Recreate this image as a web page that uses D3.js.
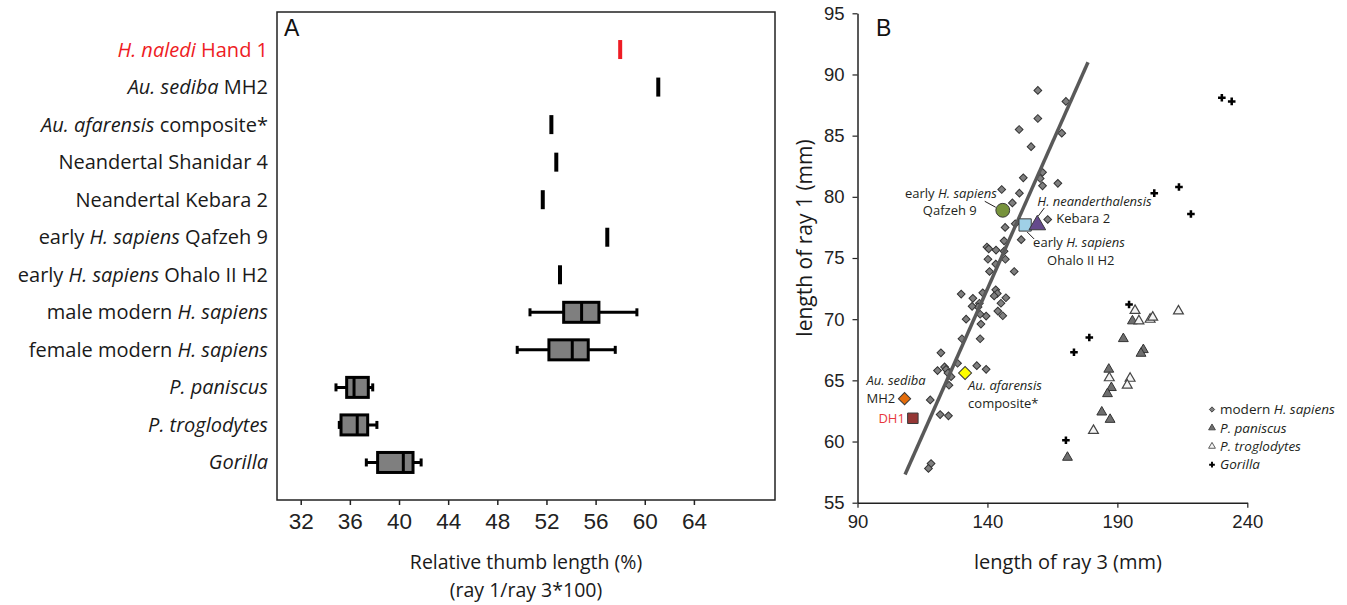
<!DOCTYPE html>
<html>
<head>
<meta charset="utf-8">
<script src="https://cdn.jsdelivr.net/npm/d3@7"></script>
<style>
  body { margin: 0; background: #fff; }
  text { white-space: pre; }
</style>
</head>
<body>
<svg id="chart" width="1347" height="605"></svg>
<script>
// ---- panel A data: relative thumb length (%)
var categoriesA = [
    "<i>H. naledi</i> Hand 1",
    "<i>Au. sediba</i> MH2",
    "<i>Au. afarensis</i> composite*",
    "Neandertal Shanidar 4",
    "Neandertal Kebara 2",
    "early <i>H. sapiens</i> Qafzeh 9",
    "early <i>H. sapiens</i> Ohalo II H2",
    "male modern <i>H. sapiens</i>",
    "female modern <i>H. sapiens</i>",
    "<i>P. paniscus</i>",
    "<i>P. troglodytes</i>",
    "<i>Gorilla</i>"
];
// single specimens (first seven categories)
var singleValues = [58.0, 61.1, 52.4, 52.8, 51.7, 56.95, 53.1];
// box plots: [min, q1, median, q3, max] for the last five categories
var boxValues = [
    [50.66, 53.4, 54.86, 56.27, 59.36],
    [49.62, 52.2, 54.1, 55.4, 57.6],
    [34.87, 35.74, 36.34, 37.5, 37.86],
    [35.14, 35.28, 36.6, 37.45, 38.2],
    [37.34, 38.26, 40.35, 41.14, 41.8]
];
var ticksA = [32, 36, 40, 44, 48, 52, 56, 60, 64];

// ---- panel B data: length of ray 3 (x) vs ray 1 (y), mm
var modernSapiens = [
    [159.4, 88.7], [170.2, 87.8], [159.4, 86.4], [152.2, 85.5], [168.6, 85.2], [156.8, 84.1],
    [153.8, 81.55], [161.2, 82.0], [160.3, 81.5], [161.2, 80.9], [167.1, 81.1], [145.5, 80.6],
    [152.3, 80.3], [149.6, 79.5], [163.2, 78.15], [150.7, 77.8], [146.8, 77.5], [153.0, 76.5],
    [146.4, 76.4], [139.8, 75.9], [140.5, 75.75], [143.3, 75.65], [146.4, 75.56], [146.9, 74.9],
    [140.2, 74.9], [143.2, 74.5], [140.8, 73.9], [150.3, 73.9], [129.9, 72.05], [134.4, 71.7],
    [138.2, 72.15], [143.2, 72.4], [143.8, 72.1], [142.6, 71.9], [147.1, 71.75], [145.2, 71.3],
    [136.9, 71.3], [136.4, 71.0], [134.1, 71.05], [144.0, 70.66], [145.9, 70.28], [139.5, 70.25],
    [137.2, 70.4], [131.8, 70.0], [137.5, 69.6], [137.2, 68.4], [130.2, 68.4], [122.1, 67.25],
    [128.5, 66.4], [123.5, 66.1], [124.1, 65.9], [120.8, 65.8], [124.8, 65.6], [126.0, 65.3],
    [135.9, 66.2], [139.5, 65.9], [125.2, 64.6], [118.0, 63.4], [121.8, 62.2], [125.0, 62.1],
    [118.3, 58.2], [117.3, 57.8]
];
var paniscus = [
    [195.8, 69.85], [192.3, 68.4], [200.0, 67.5], [199.1, 67.2], [186.7, 65.9],
    [187.7, 64.4], [186.2, 63.9], [184.0, 62.4], [187.2, 61.8], [170.8, 58.7]
];
var troglodytes = [
    [196.8, 70.7], [198.3, 69.85], [202.6, 69.98], [203.6, 70.15], [213.5, 70.66],
    [194.9, 65.16], [193.8, 64.6], [186.9, 65.2], [180.8, 60.9]
];
var gorilla = [
    [230.2, 88.1], [234.0, 87.8], [204.2, 80.3], [213.7, 80.8], [218.3, 78.6],
    [194.5, 71.2], [179.2, 68.5], [173.3, 67.3], [170.2, 60.1]
];
var regressionLine = [[108.3, 57.3], [178.7, 91.0]];
var ticksBx = [90, 140, 190, 240];
var ticksBy = [55, 60, 65, 70, 75, 80, 85, 90, 95];

// fossil specimens in panel B
var fossils = [
    {name: "Qafzeh 9", x: 145.9, y: 78.9, shape: "circle", fill: "#77933c"},
    {name: "Ohalo II H2", x: 154.5, y: 77.7, shape: "square", fill: "#9fd0e6"},
    {name: "Kebara 2", x: 159.2, y: 77.7, shape: "triangle", fill: "#654a8c"},
    {name: "MH2", x: 108.1, y: 63.5, shape: "diamond", fill: "#e46c0a"},
    {name: "DH1", x: 111.3, y: 61.9, shape: "square", fill: "#953735"},
    {name: "afarensis", x: 131.4, y: 65.6, shape: "diamond", fill: "#ffff00"}
];

var legendItems = ["modern <i>H. sapiens</i>", "<i>P. paniscus</i>", "<i>P. troglodytes</i>", "<i>Gorilla</i>"];

var LABEL_FONT = "'Open Sans', sans-serif";
var TICK_FONT = "'Liberation Sans', Arial, sans-serif";

var svg = d3.select("#chart");

/**
 * Writes text with <i>..</i> parts as italic tspans.
 * */
function richText(sel, str) {
    str.split(/(<i>.*?<\/i>)/).filter(function(s) { return s.length; }).forEach(function(s) {
        var it = s.indexOf("<i>") === 0;
        sel.append("tspan")
            .style("font-style", it ? "italic" : "normal")
            .text(it ? s.slice(3, -4) : s);
    });
}

// ================= PANEL A =================
var xA = d3.scaleLinear().domain([30.07, 70.6]).range([277, 775]);
var yA = d3.scalePoint().domain(d3.range(categoriesA.length)).range([12, 500]).padding(1);

var panelA = svg.append("g");

panelA.append("rect")
    .attr("x", 277).attr("y", 12)
    .attr("width", 498).attr("height", 488)
    .attr("fill", "none")
    .attr("stroke", "#222")
    .attr("stroke-width", 1.5);

// x axis under the frame
var axisA = panelA.append("g")
    .attr("transform", "translate(0,500)")
    .call(d3.axisBottom(xA).tickValues(ticksA).tickSize(5).tickPadding(8));
axisA.select(".domain").remove();
axisA.selectAll("line").attr("stroke", "#222").attr("stroke-width", 1.5);
axisA.selectAll("text")
    .attr("font-family", TICK_FONT)
    .attr("font-size", 22.5)
    .attr("fill", "#222");

// category labels
panelA.selectAll(".catLabel")
    .data(categoriesA)
    .enter().append("text")
    .attr("class", "catLabel")
    .attr("x", 268)
    .attr("y", function(d, i) { return yA(i); })
    .attr("dy", "0.35em")
    .attr("text-anchor", "end")
    .attr("font-family", LABEL_FONT)
    .attr("font-size", 20)
    .attr("fill", function(d, i) { return i === 0 ? "#ee1c24" : "#1a1a1a"; })
    .each(function(d) { richText(d3.select(this), d); });

// single specimen marks
panelA.selectAll(".single")
    .data(singleValues)
    .enter().append("line")
    .attr("class", "single")
    .attr("x1", function(d) { return xA(d); })
    .attr("x2", function(d) { return xA(d); })
    .attr("y1", function(d, i) { return yA(i) - 9.5; })
    .attr("y2", function(d, i) { return yA(i) + 9.5; })
    .attr("stroke", function(d, i) { return i === 0 ? "#ee1c24" : "#000"; })
    .attr("stroke-width", 4);

// box plots
var boxes = panelA.selectAll(".box")
    .data(boxValues)
    .enter().append("g")
    .attr("class", "box")
    .attr("transform", function(d, i) { return "translate(0," + yA(i + singleValues.length) + ")"; });

boxes.append("line")
    .attr("x1", function(d) { return xA(d[0]); })
    .attr("x2", function(d) { return xA(d[4]); })
    .attr("stroke", "#000").attr("stroke-width", 3);
boxes.selectAll(".cap")
    .data(function(d) { return [d[0], d[4]]; })
    .enter().append("line")
    .attr("class", "cap")
    .attr("x1", function(d) { return xA(d); })
    .attr("x2", function(d) { return xA(d); })
    .attr("y1", -4).attr("y2", 4)
    .attr("stroke", "#000").attr("stroke-width", 3);
boxes.append("rect")
    .attr("x", function(d) { return xA(d[1]); })
    .attr("width", function(d) { return xA(d[3]) - xA(d[1]); })
    .attr("y", -10).attr("height", 20)
    .attr("fill", "#7f7f7f")
    .attr("stroke", "#000").attr("stroke-width", 3);
boxes.append("line")
    .attr("x1", function(d) { return xA(d[2]); })
    .attr("x2", function(d) { return xA(d[2]); })
    .attr("y1", -10).attr("y2", 10)
    .attr("stroke", "#000").attr("stroke-width", 3);

panelA.append("text")
    .attr("x", 284).attr("y", 36)
    .attr("font-family", TICK_FONT)
    .attr("font-size", 23)
    .attr("fill", "#111")
    .text("A");

panelA.append("text")
    .attr("x", 526).attr("y", 569)
    .attr("text-anchor", "middle")
    .attr("font-family", LABEL_FONT)
    .attr("font-size", 19.5)
    .attr("fill", "#1a1a1a")
    .text("Relative thumb length (%)");
panelA.append("text")
    .attr("x", 526).attr("y", 597)
    .attr("text-anchor", "middle")
    .attr("font-family", LABEL_FONT)
    .attr("font-size", 19.5)
    .attr("fill", "#1a1a1a")
    .text("(ray 1/ray 3*100)");

// ================= PANEL B =================
var xB = d3.scaleLinear().domain([90, 240]).range([857.5, 1247.3]);
var yB = d3.scaleLinear().domain([55, 95]).range([502.7, 13.3]);

var panelB = svg.append("g");

var axBx = panelB.append("g")
    .attr("transform", "translate(0," + yB(55) + ")")
    .call(d3.axisBottom(xB).tickValues(ticksBx).tickSize(5).tickSizeOuter(0).tickPadding(7));
var axBy = panelB.append("g")
    .attr("transform", "translate(" + xB(90) + ",0)")
    .call(d3.axisLeft(yB).tickValues(ticksBy).tickSize(5).tickSizeOuter(0).tickPadding(8));
[axBx, axBy].forEach(function(ax) {
    ax.select(".domain").attr("stroke", "#222").attr("stroke-width", 1.5);
    ax.selectAll("line").attr("stroke", "#222").attr("stroke-width", 1.2);
    ax.selectAll("text")
        .attr("font-family", TICK_FONT)
        .attr("font-size", 18.5)
        .attr("fill", "#222");
});

panelB.append("text")
    .attr("x", 876).attr("y", 36)
    .attr("font-family", TICK_FONT)
    .attr("font-size", 23)
    .attr("fill", "#111")
    .text("B");

panelB.append("text")
    .attr("x", 1068).attr("y", 569)
    .attr("text-anchor", "middle")
    .attr("font-family", LABEL_FONT)
    .attr("font-size", 20)
    .attr("fill", "#1a1a1a")
    .text("length of ray 3 (mm)");
panelB.append("text")
    .attr("transform", "translate(812,238) rotate(-90)")
    .attr("text-anchor", "middle")
    .attr("font-family", LABEL_FONT)
    .attr("font-size", 21)
    .attr("fill", "#1a1a1a")
    .text("length of ray 1 (mm)");

var diamond = d3.symbol().type(d3.symbolSquare);
var tri = d3.symbol().type(d3.symbolTriangle);
var cross = d3.symbol().type(d3.symbolCross);

// modern humans
panelB.selectAll(".modern")
    .data(modernSapiens)
    .enter().append("path")
    .attr("class", "modern")
    .attr("d", diamond.size(30)())
    .attr("transform", function(d) { return "translate(" + xB(d[0]) + "," + yB(d[1]) + ") rotate(45)"; })
    .attr("fill", "#7f7f7f")
    .attr("stroke", "#333")
    .attr("stroke-width", 1);

// regression line
var line = d3.line()
    .x(function(d) { return xB(d[0]); })
    .y(function(d) { return yB(d[1]); });
panelB.append("path")
    .attr("d", line(regressionLine))
    .attr("fill", "none")
    .attr("stroke", "#595959")
    .attr("stroke-width", 3.5);

// apes
panelB.selectAll(".pan")
    .data(paniscus)
    .enter().append("path")
    .attr("d", tri.size(42)())
    .attr("transform", function(d) { return "translate(" + xB(d[0]) + "," + yB(d[1]) + ")"; })
    .attr("fill", "#6e6e6e")
    .attr("stroke", "#333")
    .attr("stroke-width", 1);
panelB.selectAll(".trog")
    .data(troglodytes)
    .enter().append("path")
    .attr("d", tri.size(42)())
    .attr("transform", function(d) { return "translate(" + xB(d[0]) + "," + yB(d[1]) + ")"; })
    .attr("fill", "#f4f4f4")
    .attr("stroke", "#444")
    .attr("stroke-width", 1.2);
panelB.selectAll(".gor")
    .data(gorilla)
    .enter().append("path")
    .attr("d", cross.size(32)())
    .attr("transform", function(d) { return "translate(" + xB(d[0]) + "," + yB(d[1]) + ")"; })
    .attr("fill", "#000");

// fossil specimens
var shapeSize = {circle: 150, square: 150, triangle: 120, diamond: 75};
fossils.forEach(function(f) {
    var t = f.shape === "circle" ? d3.symbolCircle :
        f.shape === "triangle" ? d3.symbolTriangle : d3.symbolSquare;
    var size = f.name === "DH1" ? 110 : shapeSize[f.shape];
    if (f.name === "afarensis") size = 85;
    panelB.append("path")
        .attr("d", d3.symbol().type(t).size(size)())
        .attr("transform", "translate(" + xB(f.x) + "," + yB(f.y) + ")" + (f.shape === "diamond" ? " rotate(45)" : ""))
        .attr("fill", f.fill)
        .attr("stroke", "#3a3a3a")
        .attr("stroke-width", 1);
});

// annotations: offsets are relative to the specimen mark
var notes = [
    {ref: 0, dx: -6, dy: -12, anchor: "end", text: "early <i>H. sapiens</i>"},
    {ref: 0, dx: -26, dy: 5, anchor: "end", text: "Qafzeh 9"},
    {ref: 2, dx: 0, dy: -19, anchor: "start", text: "<i>H. neanderthalensis</i>"},
    {ref: 2, dx: 19, dy: -1.5, anchor: "start", text: "Kebara 2"},
    {ref: 1, dx: 8, dy: 22, anchor: "start", text: "early <i>H. sapiens</i>"},
    {ref: 1, dx: 22, dy: 40.5, anchor: "start", text: "Ohalo II H2"},
    {ref: 3, dx: -38, dy: -14, anchor: "start", text: "<i>Au. sediba</i>"},
    {ref: 3, dx: -38, dy: 4.5, anchor: "start", text: "MH2"},
    {ref: 4, dx: -8, dy: 4.5, anchor: "end", text: "DH1", color: "#e8383d"},
    {ref: 5, dx: 3, dy: 17, anchor: "start", text: "<i>Au. afarensis</i>"},
    {ref: 5, dx: 3, dy: 34.5, anchor: "start", text: "composite*"}
];
notes.forEach(function(n) {
    var f = fossils[n.ref];
    var t = panelB.append("text")
        .attr("x", xB(f.x) + n.dx)
        .attr("y", yB(f.y) + n.dy)
        .attr("text-anchor", n.anchor)
        .attr("font-family", LABEL_FONT)
        .attr("font-size", 13)
        .attr("fill", n.color || "#231f20");
    richText(t, n.text);
});

// leader lines
var leaders = [
    {ref: 0, from: [-18, -9], to: [-7, -3]},
    {ref: 2, from: [7, -17], to: [1, -9]},
    {ref: 1, from: [2, 7], to: [9, 14]}
];
leaders.forEach(function(l) {
    var f = fossils[l.ref];
    panelB.append("line")
        .attr("x1", xB(f.x) + l.from[0]).attr("y1", yB(f.y) + l.from[1])
        .attr("x2", xB(f.x) + l.to[0]).attr("y2", yB(f.y) + l.to[1])
        .attr("stroke", "#231f20")
        .attr("stroke-width", 1);
});

// legend
var legend = panelB.selectAll(".legend")
    .data(legendItems)
    .enter().append("g")
    .attr("class", "legend")
    .attr("transform", function(d, i) { return "translate(1212," + (409.5 + i * 18.4) + ")"; });

legend.append("path")
    .attr("d", function(d, i) {
        if (i === 0) return diamond.size(14)();
        if (i === 3) return cross.size(18)();
        return tri.size(20)();
    })
    .attr("transform", function(d, i) { return i === 0 ? "rotate(45)" : null; })
    .attr("fill", function(d, i) { return ["#7f7f7f", "#6e6e6e", "#f4f4f4", "#000"][i]; })
    .attr("stroke", function(d, i) { return i === 3 ? "none" : "#333"; })
    .attr("stroke-width", 0.8);

legend.append("text")
    .attr("x", 8)
    .attr("dy", "0.35em")
    .attr("font-family", LABEL_FONT)
    .attr("font-size", 13.5)
    .attr("fill", "#231f20")
    .each(function(d) { richText(d3.select(this), d); });
</script>
</body>
</html>
